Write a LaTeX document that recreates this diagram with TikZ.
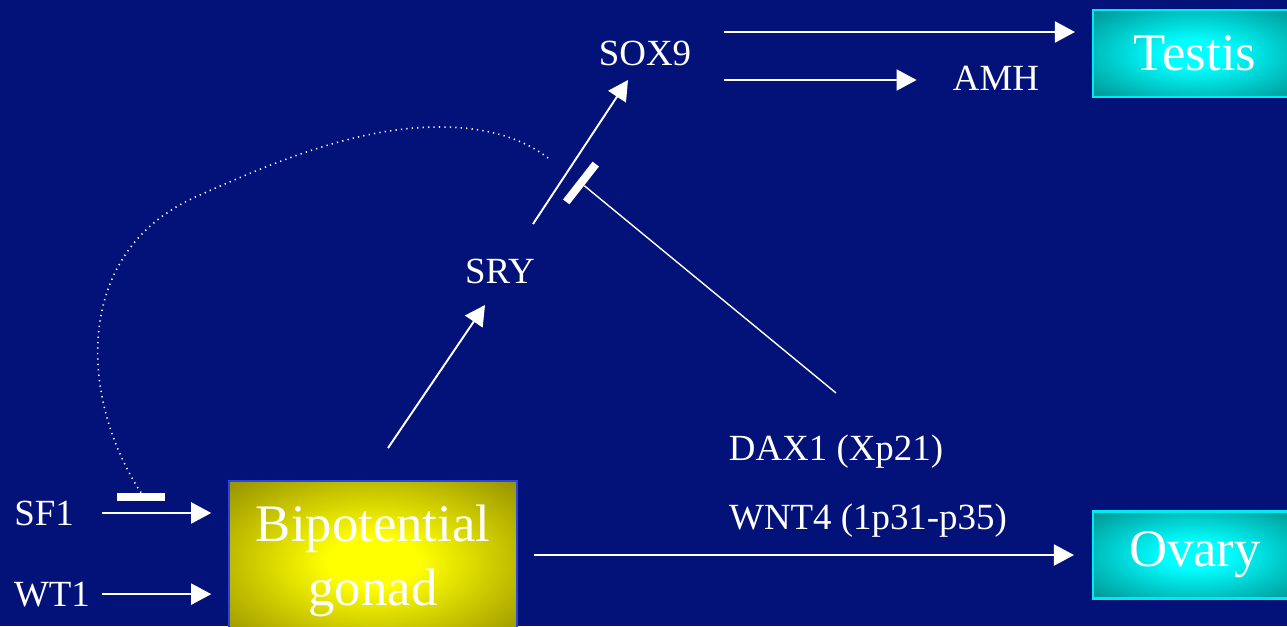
\documentclass[tikz,border=0pt]{standalone}
\usepackage{fontspec}
\setmainfont{Liberation Serif}
\usepackage{xcolor}
\usetikzlibrary{positioning,arrows.meta}

\definecolor{slidebg}{RGB}{3,18,120}
\definecolor{gonadmid}{RGB}{255,255,0}
\definecolor{gonadedge}{RGB}{140,135,0}
\definecolor{gonadline}{RGB}{40,70,230}
\definecolor{organmid}{RGB}{0,255,255}
\definecolor{organedge}{RGB}{0,145,145}
\definecolor{organline}{RGB}{0,235,235}

\pgfdeclareradialshading{gonadglow}{\pgfpoint{0bp}{0bp}}{color(0bp)=(gonadmid); color(8bp)=(gonadmid); color(38bp)=(gonadedge); color(50bp)=(gonadedge)}
\pgfdeclareradialshading{organglow}{\pgfpoint{0bp}{0bp}}{color(0bp)=(organmid); color(8bp)=(organmid); color(36bp)=(organedge); color(50bp)=(organedge)}

\begin{document}
\begin{tikzpicture}[x=0.02cm, y=-0.02cm,
  gene/.style={text=white, inner sep=0pt, anchor=base, font=\fontsize{21}{24}\selectfont},
  organ/.style={draw=organline, line width=1.2pt, shading=organglow, text=white, minimum width=4.08cm, minimum height=1.74cm, font=\fontsize{30}{36}\selectfont},
  gonadbox/.style={draw=gonadline, line width=0.9pt, shading=gonadglow, text=white, align=center, minimum width=5.76cm, minimum height=3.2cm, font=\fontsize{30}{36}\selectfont},
  arr/.style={white, line width=1.1pt, -{Triangle[length=0.4cm, width=0.42cm]}},
  inhib/.style={white, line width=0.8pt},
  blocker/.style={fill=white, inner sep=0pt, minimum width=0.96cm, minimum height=0.16cm},
  feedback/.style={white, line width=0.9pt, dash pattern=on 0.7pt off 2.4pt}
]
\useasboundingbox (0,0) rectangle (1287,626);
\clip (0,0) rectangle (1287,626);
\fill[slidebg] (0,0) rectangle (1287,626);

% Gonads
\node[gonadbox] (gonad) at (373,561) {Bipotential\\gonad};
\node[organ] (testis) at (1195,53.5) {Testis};
\node[organ] (ovary) at (1195,555) {Ovary};

% Genes
\node[gene] (sf1) at (44,525) {SF1};
\node[gene] (wt1) at (52,606) {WT1};
\node[gene] (sry) at (500,283) {SRY};
\node[gene] (sox9) at (645,65) {SOX9};
\node[gene] (amh) at (996,90) {AMH};
\node[gene] (dax1) at (836,460) {DAX1 (Xp21)};
\node[gene] (wnt4) at (868,529) {WNT4 (1p31-p35)};

% Blocking bars
\node[blocker] (sf1bar) at (141,497) {};
\node[blocker, rotate=52] (daxbar) at (581,183) {};

% Arrow ends
\coordinate (gonadout) at (388,448);
\coordinate (sryin) at (485,305);
\coordinate (sryout) at (533,224);
\coordinate (sox9in) at (628,80);
\coordinate (sox9out1) at (724,32);
\coordinate (sox9out2) at (724,80);
\coordinate (daxout) at (836,393);
\coordinate (loopend) at (548,158);

% Activation
\draw[arr, shorten <=0.56cm, shorten >=0.34cm] (sf1.east) -- (sf1.east -| gonad.west);
\draw[arr, shorten <=0.24cm, shorten >=0.34cm] (wt1.east) -- (wt1.east -| gonad.west);
\draw[arr] (gonadout) -- (sryin);
\draw[arr] (sryout) -- (sox9in);
\draw[arr, shorten >=0.34cm] (sox9out1) -- (sox9out1 -| testis.west);
\draw[arr, shorten >=0.72cm] (sox9out2) -- (sox9out2 -| amh.west);
\draw[arr, shorten <=0.32cm, shorten >=0.36cm] (gonad.east |- ovary.west) -- (ovary.west);

% Repression
\draw[inhib] (daxout) -- (daxbar);
\draw[feedback] (sf1bar.north) .. controls (80,400) and (70,250) .. (200,195)
  .. controls (300,150) and (370,127) .. (440,127)
  .. controls (490,127) and (525,140) .. (loopend);

\end{tikzpicture}
\end{document}
